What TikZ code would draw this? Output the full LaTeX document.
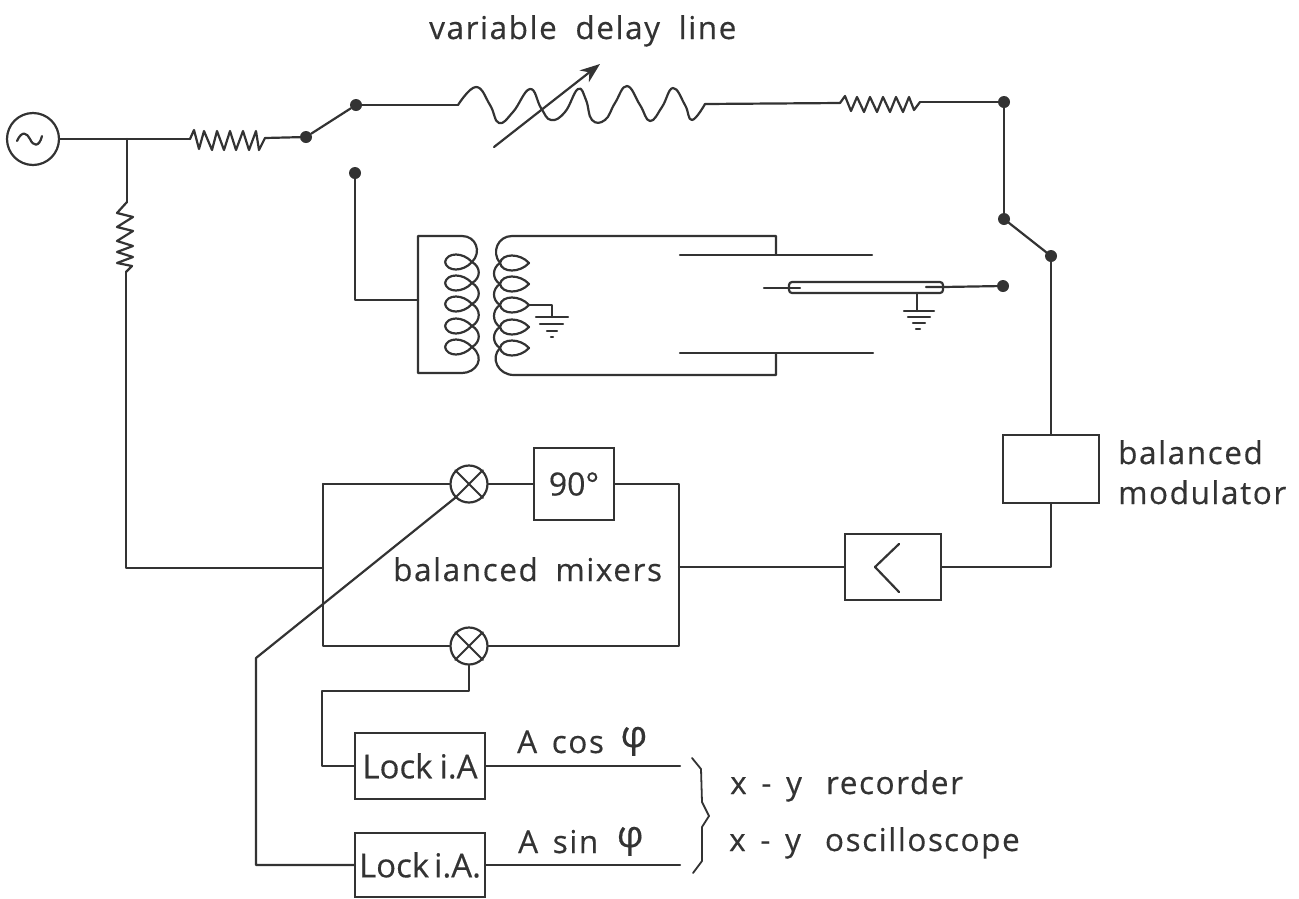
\documentclass[tikz,border=0pt]{standalone}
\usepackage{fontspec}
\setmainfont[LetterSpace=5,WordSpace=1.5,FakeBold=0.4]{Open Sans}
\newfontfamily\tightfont[LetterSpace=0,WordSpace=0.4,FakeBold=0.4]{Open Sans}
\usetikzlibrary{arrows.meta,calc}
\definecolor{ink}{HTML}{333333}
\tikzset{
  wire/.style={draw=ink,line width=2.2pt,line join=round,line cap=round},
  coil/.style={draw=ink,line width=2.2pt,line join=round},
  dotnode/.style={circle,fill=ink,draw=none,inner sep=0pt,minimum size=12pt},
  boxnode/.style={draw=ink,line width=2.2pt,inner sep=0pt,text=ink},
  mix/.style={circle,draw=ink,line width=2.2pt,inner sep=0pt,minimum size=37pt},
  lbl/.style={text=ink,inner sep=0pt,anchor=base west,font=\fontsize{31.5}{34}\selectfont},
}
\newcommand{\lens}[3]{% x-left, x-right, y
  \draw[coil] (#1,#3) .. controls (#1+2,#3-10) and (#2-9,#3-10) .. (#2,#3)
     .. controls (#2-9,#3+10) and (#1+2,#3+10) .. (#1,#3);}
\newcommand{\phisym}{\raisebox{6pt}{\fontsize{37}{37}\selectfont φ}}
\begin{document}
\begin{tikzpicture}[x=1pt,y=-1pt]
\useasboundingbox (0,0) rectangle (1299,898);
% ---- nodes
\node[circle,draw=ink,line width=2.2pt,inner sep=0pt,minimum size=52pt] (src) at (33,139) {};
\draw[wire] (17,141) .. controls (22,130) and (27,133) .. (30,139) .. controls (33,146) and (39,148) .. (42,136);
\foreach \n/\x/\y in {d1/306/137,d2/356/105,d3/355/173,d4/1004/102,d5/1004/219,d6/1051/256,d7/1003/286}
  \node[dotnode] (\n) at (\x,\y) {};
\node[mix] (m1) at (469,484) {};
\node[mix] (m2) at (469,646) {};
\foreach \m in {m1,m2}{
  \draw[wire,line width=1.8pt] (\m.north west) -- (\m.south east);
  \draw[wire,line width=1.8pt] (\m.north east) -- (\m.south west);
}
\node[boxnode,minimum width=80pt,minimum height=72pt,font=\tightfont\fontsize{32}{34}\selectfont] (ph) at (574,484) {90°};
\node[boxnode,minimum width=96pt,minimum height=68pt] (mod) at (1051,469) {};
\node[boxnode,minimum width=96pt,minimum height=66pt] (amp) at (893,567) {};
\draw[wire] (899,544) -- (875,567) -- (899,592);
\node[boxnode,minimum width=130pt,minimum height=66pt,font=\tightfont\fontsize{33}{36}\selectfont] (l1) at (420,766) {Lock\hspace{7pt}i.A};
\node[boxnode,minimum width=130pt,minimum height=64pt,font=\tightfont\fontsize{33}{36}\selectfont] (l2) at (420,865) {Lock\hspace{5pt}i.A.};
% ---- free coordinates
\coordinate (j1) at (127,139);
\coordinate (r1a) at (190,139);
\coordinate (r1b) at (265,138);
\coordinate (r2a) at (127,202);
\coordinate (r2b) at (126,272);
\coordinate (la) at (458,105);
\coordinate (lb) at (705,104);
\coordinate (r3a) at (840,103);
\coordinate (r3b) at (920,102);
\coordinate (fr) at (418,300);
\coordinate (mtl) at (323,484);
\coordinate (mtr) at (679,484);
\coordinate (mbl) at (323,646);
\coordinate (mbr) at (679,646);
\coordinate (ml) at (323,568);
\coordinate (mr) at (679,567);
\coordinate (fd) at (126,568);
\coordinate (e1) at (680,766);
\coordinate (e2) at (680,865);
% ---- wiring
\draw[wire] (src) -- (j1) -- (r1a);
\draw[wire] (r1a) -- (194,130) -- (199,149) -- (204,131) -- (212,150) -- (217,131) -- (224,150) -- (230,131) -- (236,150) -- (243,131) -- (249,150) -- (256,131) -- (259,150) -- (r1b);
\draw[wire] (r1b) -- (d1);
\draw[wire] (d1) -- (d2);
\draw[wire] (d2) -- (la);
\draw[wire] plot[smooth,tension=0.75] coordinates {(458,105) (476,87) (490,105) (499,123) (513,112) (530,89) (541,108) (551,120) (565,112) (578,89) (586,100) (592,120) (605,120) (615,103) (627,86) (640,105) (650,121) (662,107) (673,88) (685,105) (692,120) (705,104)};
\draw[wire,-{Stealth[length=20pt,width=15pt]}] (494,147) -- (600,64);
\draw[wire] (lb) -- (r3a);
\draw[wire] (r3a) -- (845,96) -- (851,111) -- (857,97) -- (864,112) -- (870,97) -- (877,112) -- (883,97) -- (890,112) -- (896,97) -- (903,112) -- (909,97) -- (914,110) -- (r3b);
\draw[wire] (r3b) -- (d4);
\draw[wire] (d4) -- (d5);
\draw[wire] (d5) -- (d6);
\draw[wire] (d6) -- (mod);
\draw[wire] (mod) |- (amp);
\draw[wire] (amp) -- (mr);
\draw[wire] (j1) -- (r2a);
\draw[wire] (r2a) -- (117,213) -- (133,217) -- (117,227) -- (133,231) -- (117,241) -- (133,246) -- (117,252) -- (133,257) -- (117,263) -- (132,266) -- (r2b);
\draw[wire] (r2b) |- (fd) -- (ml);
\draw[wire] (mtl) -- (m1);
\draw[wire] (m1) -- (ph);
\draw[wire] (ph) -- (mtr) -- (mbr) -- (m2);
\draw[wire] (m2) -- (mbl) -- (mtl);
\draw[wire] (m1.south west) -- (256,658) |- (l2);
\draw[wire] (m2) -- (469,691) -- (322,691) |- (l1);
\draw[wire] (l1) -- (e1);
\draw[wire] (l2) -- (e2);
\draw[wire] (d3) |- (fr);
% ---- transformer
\draw[coil] (418,300) -- (418,236) -- (462,236) .. controls (476,236) and (482,252) .. (472,262);
\draw[coil] (418,300) -- (418,373) -- (462,373) .. controls (476,373) and (486,358) .. (472,347);
\foreach \a/\b in {262/283,283/304,304/326,326/347}
  \draw[coil] (472,\a) .. controls (481,\a+5) and (481,\b-5) .. (472,\b);
\foreach \y in {262,283,304,326,347} {\lens{445}{472}{\y}}
\draw[coil] (776,255) -- (776,236) -- (512,236) .. controls (498,236) and (491,252) .. (500,263);
\draw[coil] (776,353) -- (776,375) -- (514,375) .. controls (498,375) and (490,358) .. (500,348);
\foreach \a/\b in {263/284,284/305,305/327,327/348}
  \draw[coil] (500,\a) .. controls (492,\a+5) and (492,\b-5) .. (500,\b);
\foreach \y in {263,284,305,327,348} {\lens{500}{529}{\y}}
% grounds
\draw[wire] (529,305) -- (552,305) -- (552,317);
\draw[wire] (536,317) -- (568,317) (540,324) -- (563,324) (547,331) -- (557,331) (551,337) -- (553,337);
% plates and cell
\draw[wire] (680,255) -- (872,255);
\draw[wire] (680,353) -- (873,353);
\draw[wire,rounded corners=3pt] (789,282) rectangle (943,293);
\draw[wire] (764,288) -- (800,288);
\draw[wire] (926,287) -- (943,287) -- (d7);
\draw[wire] (917,293) -- (917,311);
\draw[wire] (904,311) -- (934,311) (908,317) -- (930,317) (913,323) -- (925,323) (916,329) -- (920,329);
% brace
\draw[wire,line width=1.8pt] (692,758) -- (701,769) -- (702,802) -- (709,816) -- (702,827) -- (702,861) -- (693,873);
% ---- labels
\node[lbl] (t1) at (429,39) {variable\hspace{4pt} delay\hspace{4pt} line};
\node[lbl] (t2) at (1118,464) {balanced};
\node[lbl] (t3) at (1118,504) {modulator};
\node[lbl] (t4) at (393,581) {balanced\hspace{3pt} mixers};
\node[lbl] (t5) at (517,753) {A cos\hspace{2pt} \phisym};
\node[lbl] (t6) at (518,853) {A sin\hspace{4pt} \phisym};
\node[lbl] (t7) at (730,794) {x - y\hspace{24pt}recorder};
\node[lbl] (t8) at (729,851) {x - y\hspace{24pt}oscillos\kern1pt cope};
\end{tikzpicture}
\end{document}
